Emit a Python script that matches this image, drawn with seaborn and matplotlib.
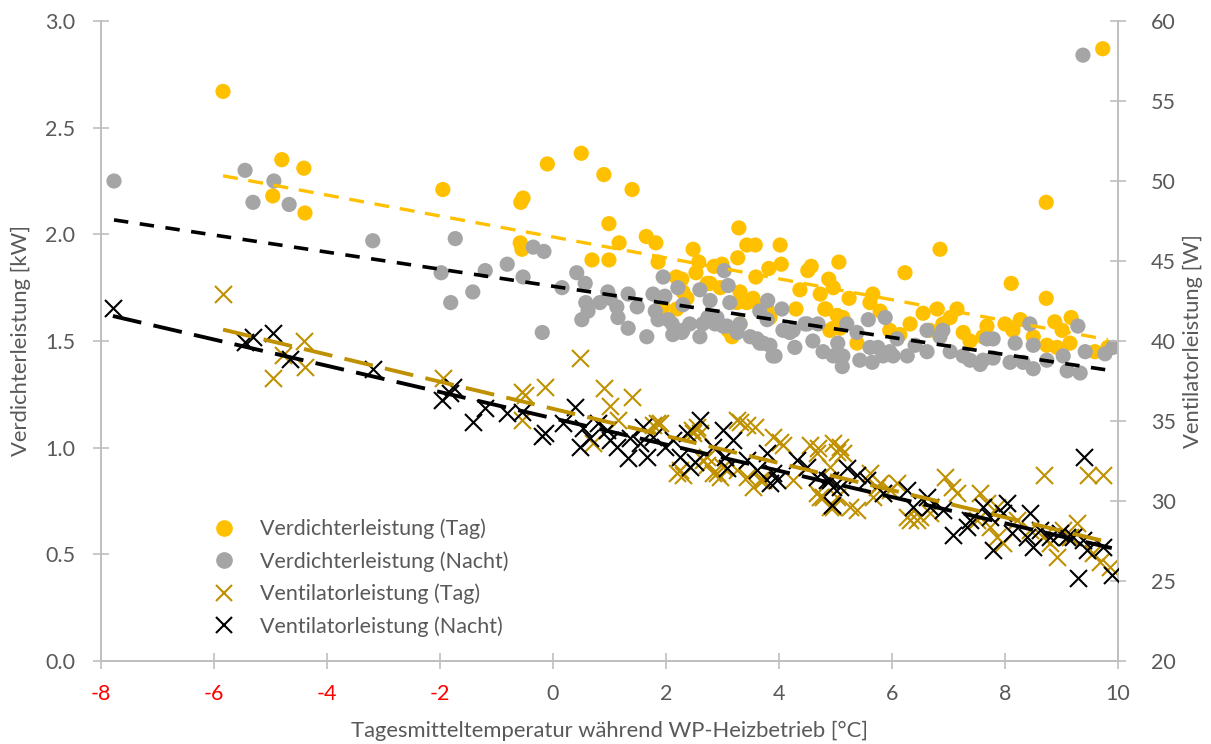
import numpy as np
import pandas as pd
import seaborn as sns
import matplotlib
matplotlib.use("Agg")
import matplotlib.pyplot as plt
from matplotlib.lines import Line2D

# ---------------- data ----------------
temp_verd_tag = [-5.84, -4.80, -4.41, -4.96, -4.39, -1.95, -0.53, -0.57, -0.58, -0.55,
                 -0.10, 0.50, 0.90, 1.40, 0.99, 1.17, 0.69, 0.99, 1.65, 1.82,
                 1.86, 2.48, 2.58, 3.29, 3.43, 3.58, 4.02, 3.27, 4.04, 3.82,
                 3.59, 2.85, 2.99, 2.53, 2.18, 2.28, 4.51, 4.57, 4.88, 5.06,
                 4.37, 4.73, 4.30, 4.83, 4.96, 2.78, 2.96, 3.31, 3.54, 3.79,
                 3.26, 3.10, 3.31, 2.30, 2.37, 1.95, 2.19, 1.89, 3.43, 3.66,
                 3.84, 3.17, 2.73, 4.96, 5.24, 5.66, 5.61, 4.81, 5.03, 5.13,
                 6.23, 6.85, 5.79, 5.96, 6.14, 6.55, 6.80, 7.03, 7.15, 6.32,
                 6.67, 6.90, 7.26, 7.38, 7.61, 5.08, 5.38, 4.90, 8.11, 8.73,
                 9.17, 7.68, 8.00, 8.27, 8.88, 9.01, 8.14, 8.50, 8.74, 8.92,
                 9.15, 9.59, 9.82, 9.73, 8.73]
kw_verd_tag = [2.67, 2.35, 2.31, 2.18, 2.10, 2.21, 2.17, 2.15, 1.96, 1.93,
               2.33, 2.38, 2.28, 2.21, 2.05, 1.96, 1.88, 1.88, 1.99, 1.96,
               1.87, 1.93, 1.87, 2.03, 1.95, 1.95, 1.95, 1.89, 1.86, 1.84,
               1.80, 1.85, 1.86, 1.82, 1.80, 1.79, 1.83, 1.85, 1.79, 1.87,
               1.74, 1.72, 1.65, 1.65, 1.56, 1.77, 1.75, 1.73, 1.70, 1.65,
               1.68, 1.55, 1.58, 1.73, 1.70, 1.66, 1.65, 1.65, 1.68, 1.66,
               1.61, 1.52, 1.77, 1.75, 1.70, 1.72, 1.68, 1.65, 1.62, 1.61,
               1.82, 1.93, 1.64, 1.55, 1.53, 1.63, 1.65, 1.61, 1.65, 1.58,
               1.55, 1.58, 1.54, 1.50, 1.52, 1.56, 1.49, 1.55, 1.77, 1.70,
               1.61, 1.57, 1.58, 1.60, 1.59, 1.55, 1.55, 1.52, 1.48, 1.47,
               1.49, 1.45, 1.47, 2.87, 2.15]

temp_verd_nacht = [-7.77, -5.45, -4.94, -5.31, -4.67, -3.19, -1.73, -1.98, -1.81, -1.42,
                   -1.20, -0.81, -0.53, -0.35, -0.16, -0.19, 0.16, 0.42, 0.57, 0.58,
                   0.51, 0.62, 0.83, 0.97, 1.01, 1.13, 1.15, 1.33, 1.33, 1.49,
                   1.66, 1.77, 1.98, 1.95, 2.21, 2.30, 1.86, 2.11, 2.12, 2.30,
                   2.42, 2.60, 2.65, 2.60, 2.78, 3.03, 3.10, 3.13, 2.90, 3.08,
                   3.26, 3.49, 3.66, 3.84, 3.66, 3.80, 4.05, 3.93, 4.25, 4.28,
                   4.50, 4.60, 4.69, 4.78, 4.96, 5.04, 1.81, 2.04, 2.28, 2.74,
                   2.87, 3.01, 3.31, 3.61, 3.72, 3.89, 3.79, 4.07, 4.19, 4.46,
                   5.13, 5.12, 5.20, 5.38, 5.58, 5.88, 5.43, 5.61, 5.75, 5.96,
                   6.09, 5.65, 5.84, 6.02, 6.27, 6.41, 6.62, 6.90, 6.85, 6.62,
                   7.03, 7.26, 7.38, 7.56, 7.68, 8.44, 9.29, 7.79, 8.18, 8.50,
                   7.61, 7.79, 8.09, 8.32, 8.50, 8.74, 9.03, 9.10, 9.33, 9.42,
                   9.77, 9.91, 9.38]
kw_verd_nacht = [2.25, 2.30, 2.25, 2.15, 2.14, 1.97, 1.98, 1.82, 1.68, 1.73,
                 1.83, 1.86, 1.80, 1.94, 1.92, 1.54, 1.75, 1.82, 1.77, 1.68,
                 1.60, 1.64, 1.68, 1.73, 1.70, 1.66, 1.61, 1.72, 1.56, 1.66,
                 1.52, 1.72, 1.71, 1.80, 1.75, 1.67, 1.60, 1.58, 1.53, 1.55,
                 1.58, 1.52, 1.58, 1.74, 1.69, 1.83, 1.76, 1.68, 1.61, 1.57,
                 1.54, 1.52, 1.49, 1.48, 1.64, 1.69, 1.65, 1.43, 1.55, 1.47,
                 1.58, 1.50, 1.58, 1.45, 1.43, 1.49, 1.64, 1.60, 1.54, 1.61,
                 1.58, 1.57, 1.58, 1.51, 1.49, 1.43, 1.60, 1.55, 1.54, 1.58,
                 1.43, 1.38, 1.58, 1.54, 1.60, 1.61, 1.41, 1.47, 1.47, 1.45,
                 1.51, 1.40, 1.43, 1.43, 1.43, 1.48, 1.55, 1.55, 1.52, 1.45,
                 1.45, 1.43, 1.41, 1.39, 1.51, 1.58, 1.57, 1.51, 1.49, 1.48,
                 1.41, 1.42, 1.40, 1.40, 1.37, 1.41, 1.43, 1.36, 1.35, 1.45,
                 1.44, 1.47, 2.84]

temp_vent_tag = [-5.84, -4.41, -4.78, -4.39, -4.96, -1.95, -0.55, -0.50, -0.55, -0.14,
                 0.48, 0.90, 1.40, 1.01, 1.15, 0.71, 1.77, 1.89, 2.46, 2.60,
                 3.31, 3.43, 3.58, 4.02, 4.07, 4.55, 4.69, 4.96, 5.03, 2.25,
                 2.90, 3.01, 3.54, 3.66, 4.25, 4.67, 4.78, 4.96, 2.65, 2.73,
                 5.08, 4.90, 5.03, 5.26, 5.38, 5.61, 5.79, 5.96, 5.66, 6.32,
                 6.50, 6.67, 6.94, 7.06, 7.15, 7.56, 7.68, 7.86, 7.50, 7.73,
                 7.86, 7.96, 8.21, 8.44, 8.67, 8.80, 8.92, 9.03, 9.15, 8.69,
                 9.47, 9.73, 9.56, 9.68, 9.86, 9.27, 3.26, 3.89, 4.67, 5.13,
                 4.73, 4.90, 5.73, 5.84, 6.09, 3.26, 3.43, 3.72, 6.27, 6.44,
                 2.19, 2.30, 2.83, 2.96, 2.73, 2.48, 2.55, 1.84]
w_vent_tag = [42.94, 40.00, 39.13, 38.38, 37.69, 37.69, 36.81, 36.63, 35.06, 37.13,
              38.94, 37.06, 36.50, 35.94, 35.06, 33.63, 34.75, 34.88, 34.44, 34.25,
              34.94, 34.75, 34.63, 33.69, 33.50, 33.50, 33.31, 33.63, 33.06, 31.94,
              31.75, 32.13, 30.88, 31.31, 31.31, 30.50, 30.25, 29.63, 32.56, 32.25,
              33.38, 32.13, 30.25, 29.63, 29.44, 31.75, 31.13, 30.69, 30.25, 28.81,
              29.00, 29.25, 31.50, 30.88, 30.50, 30.50, 29.88, 29.63, 28.81, 28.38,
              27.75, 27.38, 28.81, 28.19, 27.75, 27.38, 26.50, 28.19, 27.75, 31.63,
              31.63, 31.63, 26.75, 26.19, 25.88, 28.63, 35.06, 34.00, 33.00, 33.00,
              30.25, 29.63, 30.88, 30.50, 31.13, 31.94, 31.50, 31.31, 29.00, 28.81,
              31.75, 31.63, 31.75, 31.50, 32.75, 34.25, 34.63, 34.88]

temp_vent_nacht = [-7.79, -5.31, -5.45, -4.96, -4.65, -3.19, -1.77, -1.82, -1.96, -1.20,
                   -1.42, -0.81, -0.55, -0.19, -0.14, 0.39, 0.18, 0.53, 0.48, 0.65,
                   0.80, 0.96, 1.01, 1.13, 1.33, 1.36, 1.54, 1.66, 1.59, 1.77,
                   1.98, 2.12, 2.25, 2.42, 2.60, 2.37, 2.51, 2.83, 3.01, 3.04,
                   3.19, 3.08, 3.43, 3.61, 3.79, 3.89, 3.84, 3.96, 4.32, 4.50,
                   4.67, 4.85, 4.96, 4.94, 5.20, 5.38, 4.90, 5.08, 5.56, 5.84,
                   6.27, 6.37, 6.62, 6.67, 6.90, 7.08, 7.33, 7.38, 7.61, 7.73,
                   7.79, 7.96, 8.04, 8.12, 8.39, 8.44, 8.50, 8.62, 8.80, 8.97,
                   9.10, 9.20, 9.38, 9.45, 9.73, 9.29, 9.89, 9.40]
w_vent_nacht = [42.06, 40.25, 39.94, 40.50, 38.88, 38.25, 37.13, 36.75, 36.31, 35.81,
                34.94, 35.50, 35.56, 34.06, 34.25, 35.88, 34.88, 34.56, 33.38, 33.94,
                34.88, 34.44, 33.81, 33.38, 32.69, 33.94, 33.63, 32.75, 34.63, 34.00,
                33.38, 33.81, 32.75, 32.13, 35.06, 34.25, 32.44, 33.38, 34.44, 32.75,
                33.81, 32.06, 32.56, 31.94, 33.00, 31.75, 31.13, 31.31, 32.56, 32.13,
                31.50, 31.31, 30.88, 29.75, 32.06, 31.63, 31.31, 30.88, 31.31, 30.50,
                30.69, 29.63, 30.25, 29.63, 29.44, 27.88, 28.38, 28.81, 29.63, 29.00,
                26.94, 29.25, 29.88, 28.00, 27.75, 29.25, 27.13, 28.19, 27.75, 28.00,
                27.75, 27.75, 27.56, 26.94, 27.13, 25.19, 25.38, 32.75]

labels = ["Verdichterleistung (Tag)", "Verdichterleistung (Nacht)",
          "Ventilatorleistung (Tag)", "Ventilatorleistung (Nacht)"]
x_ticks = [-8, -6, -4, -2, 0, 2, 4, 6, 8, 10]
y_left_ticks = [0.0, 0.5, 1.0, 1.5, 2.0, 2.5, 3.0]
y_right_ticks = [20, 25, 30, 35, 40, 45, 50, 55, 60]

# ---------------- style ----------------
sns.set_theme(style="white")
plt.rcParams['font.family'] = ['Lato', 'DejaVu Sans']

C_YEL = "#FFC000"
C_GRAY = "#A5A5A5"
C_GOLD = "#BF9000"
C_BLK = "#000000"
C_AX = "#BFBFBF"
C_TXT = "#595959"
FS_TICK = 15.5
FS_LAB = 15.8

W, H = 1211, 744
fig = plt.figure(figsize=(W / 100, H / 100), dpi=100)
ax = fig.add_axes([101 / W, 1 - 661 / H, (1118 - 101) / W, 640 / H])
ax2 = ax.twinx()

# circles (left axis)
sns.scatterplot(x=temp_verd_tag, y=kw_verd_tag, ax=ax, color=C_YEL, s=120,
                edgecolor="none", zorder=2)
sns.scatterplot(x=temp_verd_nacht, y=kw_verd_nacht, ax=ax, color=C_GRAY, s=120,
                edgecolor="none", zorder=3)
sns.regplot(x=temp_verd_tag, y=kw_verd_tag, ax=ax, scatter=False, ci=None, truncate=True,
            line_kws=dict(color=C_YEL, lw=2.4, dashes=(4.5, 3.2), zorder=4))
sns.regplot(x=temp_verd_nacht, y=kw_verd_nacht, ax=ax, scatter=False, ci=None, truncate=True,
            line_kws=dict(color=C_BLK, lw=2.6, dashes=(4.0, 3.2), zorder=5))

# crosses (right axis)
sns.scatterplot(x=temp_vent_tag, y=w_vent_tag, ax=ax2, color=C_GOLD, marker="x", s=150,
                linewidth=1.5, zorder=2)
sns.scatterplot(x=temp_vent_nacht, y=w_vent_nacht, ax=ax2, color=C_BLK, marker="x", s=150,
                linewidth=1.5, zorder=3)
sns.regplot(x=temp_vent_tag, y=w_vent_tag, ax=ax2, scatter=False, ci=None, truncate=True,
            line_kws=dict(color=C_GOLD, lw=2.8, dashes=(7.5, 3.2), zorder=4))
sns.regplot(x=temp_vent_nacht, y=w_vent_nacht, ax=ax2, scatter=False, ci=None, truncate=True,
            line_kws=dict(color=C_BLK, lw=2.8, dashes=(7.5, 3.2), zorder=5))

# axes
ax.set_xlim(-8, 10)
ax.set_ylim(0, 3.0)
ax2.set_ylim(20, 60)
ax.set_xticks(x_ticks)
ax.set_xticklabels([str(t) for t in x_ticks])
ax.set_yticks(y_left_ticks)
ax.set_yticklabels([f"{v:.1f}" for v in y_left_ticks])
ax2.set_yticks(y_right_ticks)
ax2.set_yticklabels([str(v) for v in y_right_ticks])
ax.grid(False)
ax2.grid(False)

for a in (ax, ax2):
    for s in a.spines.values():
        s.set_visible(False)
ax.spines["left"].set_visible(True)
ax.spines["bottom"].set_visible(True)
ax2.spines["right"].set_visible(True)
for s in (ax.spines["left"], ax.spines["bottom"], ax2.spines["right"]):
    s.set_color(C_AX)
    s.set_linewidth(1.4)

ax.tick_params(axis="both", direction="inout", length=11, width=1.2, color=C_AX,
               labelcolor=C_TXT, labelsize=FS_TICK, left=True, bottom=True)
ax.tick_params(axis="x", pad=11)
ax.tick_params(axis="y", pad=13)
ax2.tick_params(axis="y", direction="inout", length=11, width=1.2, color=C_AX,
                labelcolor=C_TXT, labelsize=FS_TICK, right=True, pad=18)

for lbl, t in zip(ax.get_xticklabels(), x_ticks):
    if t < 0:
        lbl.set_color("#FF0000")

ax.set_xlabel("Tagesmitteltemperatur während WP-Heizbetrieb [°C]", color=C_TXT,
              fontsize=FS_LAB, labelpad=12)
ax.set_ylabel("Verdichterleistung [kW]", color=C_TXT, fontsize=FS_LAB, labelpad=10)
ax2.set_ylabel("Ventilatorleistung [W]", color=C_TXT, fontsize=FS_LAB, labelpad=5)

handles = [
    Line2D([], [], ls="", marker="o", color=C_YEL, markersize=11),
    Line2D([], [], ls="", marker="o", color=C_GRAY, markersize=11),
    Line2D([], [], ls="", marker="x", color=C_GOLD, markersize=12, markeredgewidth=1.5),
    Line2D([], [], ls="", marker="x", color=C_BLK, markersize=12, markeredgewidth=1.5),
]
fig.legend(handles, labels, loc="upper left", bbox_to_anchor=(202 / W, 1 - 510 / H),
           frameon=False, fontsize=FS_TICK, labelcolor=C_TXT, handlelength=1.2,
           handletextpad=1.1, labelspacing=0.55, borderaxespad=0)

fig.savefig("out.png", dpi=100)
